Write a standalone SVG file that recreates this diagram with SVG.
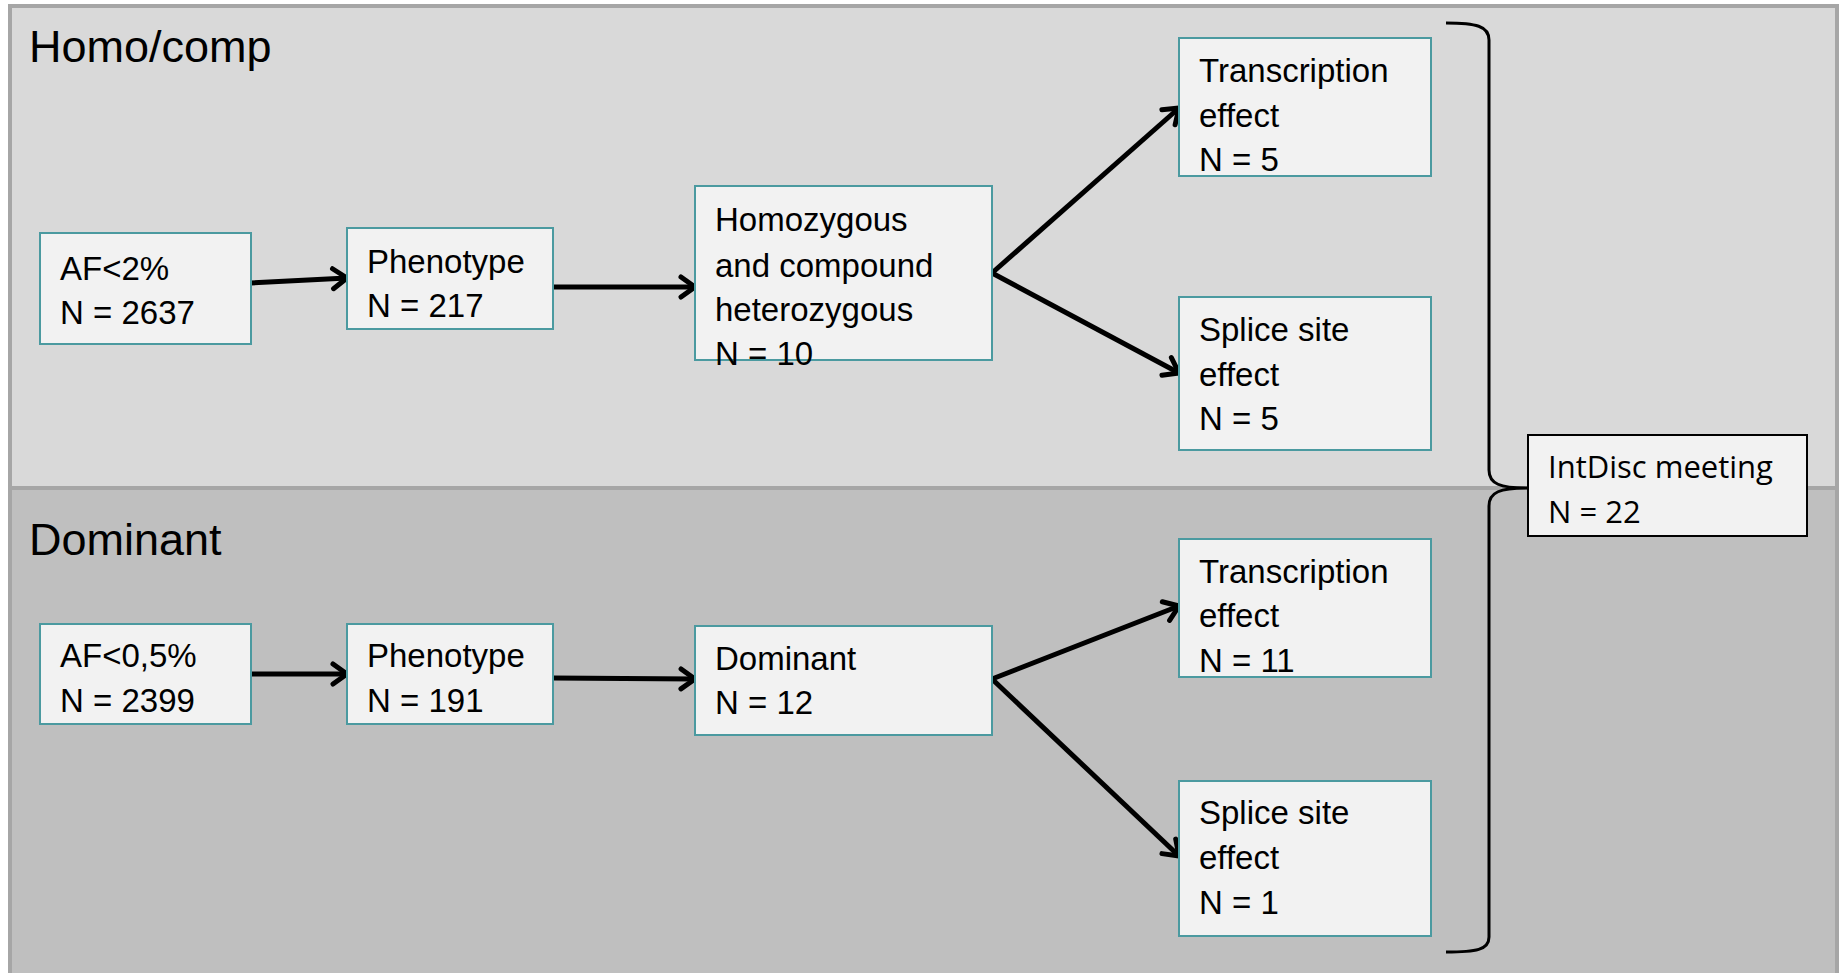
<svg xmlns="http://www.w3.org/2000/svg" width="1839" height="973" viewBox="0 0 1839 973">
<defs>
<style>
.box{fill:#f2f2f2;stroke:#4b9aa0;stroke-width:2}
.t{font-family:"Liberation Sans",Arial,sans-serif;font-size:33px;fill:#000}
.title{font-family:"Liberation Sans",Arial,sans-serif;font-size:45px;fill:#000}
.c{fill:none;stroke:#000;stroke-width:5}
</style>
<marker id="ah" markerUnits="userSpaceOnUse" markerWidth="26" markerHeight="26" refX="19" refY="13" orient="auto">
<path d="M5,3 L19,13 L5,23" fill="none" stroke="#000" stroke-width="5" stroke-linecap="round" stroke-linejoin="round"/>
</marker>
</defs>
<rect width="1839" height="973" fill="#ffffff"/>
<g id="panel-top">
<rect x="10" y="6" width="1827" height="482" fill="#d9d9d9" stroke="#a6a6a6" stroke-width="4"/>
<text class="title" x="29" y="62">Homo/comp</text>
</g>
<g id="panel-bottom">
<rect x="10" y="488" width="1827" height="490" fill="#bfbfbf" stroke="#a6a6a6" stroke-width="4"/>
<text class="title" x="29" y="555">Dominant</text>
</g>
<g id="connectors">
<line class="c" x1="251" y1="283" x2="347" y2="278" marker-end="url(#ah)"/>
<line class="c" x1="553" y1="287" x2="695" y2="287" marker-end="url(#ah)"/>
<line class="c" x1="992" y1="273" x2="1179" y2="108" marker-end="url(#ah)"/>
<line class="c" x1="992" y1="273" x2="1179" y2="373" marker-end="url(#ah)"/>
<line class="c" x1="251" y1="674" x2="347" y2="674" marker-end="url(#ah)"/>
<line class="c" x1="553" y1="678" x2="695" y2="679" marker-end="url(#ah)"/>
<line class="c" x1="992" y1="679" x2="1179" y2="606" marker-end="url(#ah)"/>
<line class="c" x1="992" y1="679" x2="1179" y2="856" marker-end="url(#ah)"/>
<path id="brace" d="M1446,23 C1476,23 1489,26 1489,40 L1489,470 C1489,484 1500,488 1528,488 C1500,488 1489,492 1489,506 L1489,937 C1489,950 1476,952 1446,952" fill="none" stroke="#000" stroke-width="3"/>
</g>
<g id="af1">
<rect class="box" x="40" y="233" width="211" height="111"/>
<text class="t" x="60" y="280">AF&lt;2%</text>
<text class="t" x="60" y="324">N = 2637</text>
</g>
<g id="pheno1">
<rect class="box" x="347" y="228" width="206" height="101"/>
<text class="t" x="367" y="273">Phenotype</text>
<text class="t" x="367" y="317">N = 217</text>
</g>
<g id="homo">
<rect class="box" x="695" y="186" width="297" height="174"/>
<text class="t" x="715" y="231">Homozygous</text>
<text class="t" x="715" y="277">and compound</text>
<text class="t" x="715" y="321">heterozygous</text>
<text class="t" x="715" y="365">N = 10</text>
</g>
<g id="trans1">
<rect class="box" x="1179" y="38" width="252" height="138"/>
<text class="t" x="1199" y="82">Transcription</text>
<text class="t" x="1199" y="127">effect</text>
<text class="t" x="1199" y="171">N = 5</text>
</g>
<g id="splice1">
<rect class="box" x="1179" y="297" width="252" height="153"/>
<text class="t" x="1199" y="341">Splice site</text>
<text class="t" x="1199" y="386">effect</text>
<text class="t" x="1199" y="430">N = 5</text>
</g>
<g id="af2">
<rect class="box" x="40" y="624" width="211" height="100"/>
<text class="t" x="60" y="667">AF&lt;0,5%</text>
<text class="t" x="60" y="712">N = 2399</text>
</g>
<g id="pheno2">
<rect class="box" x="347" y="624" width="206" height="100"/>
<text class="t" x="367" y="667">Phenotype</text>
<text class="t" x="367" y="712">N = 191</text>
</g>
<g id="dominant">
<rect class="box" x="695" y="626" width="297" height="109"/>
<text class="t" x="715" y="670">Dominant</text>
<text class="t" x="715" y="714">N = 12</text>
</g>
<g id="trans2">
<rect class="box" x="1179" y="539" width="252" height="138"/>
<text class="t" x="1199" y="583">Transcription</text>
<text class="t" x="1199" y="627">effect</text>
<text class="t" x="1199" y="672">N = 11</text>
</g>
<g id="splice2">
<rect class="box" x="1179" y="781" width="252" height="155"/>
<text class="t" x="1199" y="824">Splice site</text>
<text class="t" x="1199" y="869">effect</text>
<text class="t" x="1199" y="914">N = 1</text>
</g>
<g id="intdisc">
<rect x="1528" y="435" width="279" height="101" fill="#f2f2f2" stroke="#000" stroke-width="2"/>
<text x="1548" y="478" style="font-family:'Open Sans','Liberation Sans',sans-serif;font-size:31px">IntDisc meeting</text>
<text x="1548" y="523" style="font-family:'Open Sans','Liberation Sans',sans-serif;font-size:31px">N = 22</text>
</g>
</svg>
